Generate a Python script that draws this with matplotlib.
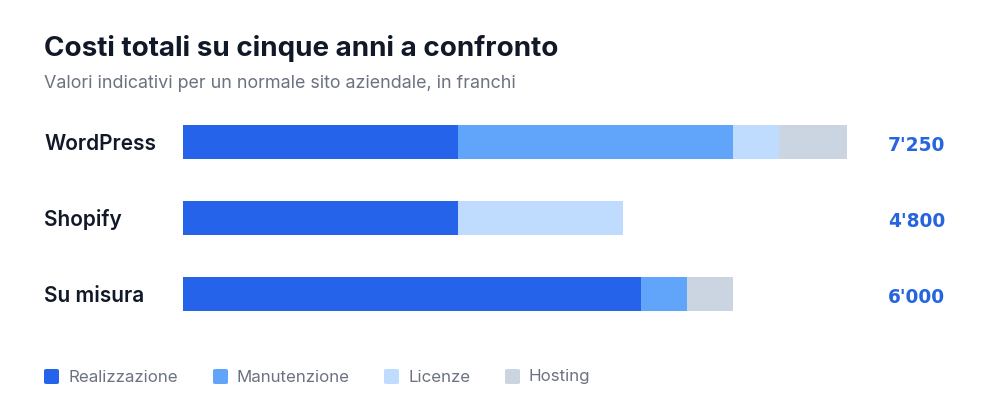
import numpy as np
import matplotlib.pyplot as plt
from matplotlib.patches import FancyBboxPatch

# data
platforms = ["WordPress", "Shopify", "Su misura"]
components = ["Realizzazione", "Manutenzione", "Licenze", "Hosting"]
realizzazione = [3000, 3000, 5000]
manutenzione = [3000, 0, 500]
licenze = [500, 1800, 0]
hosting = [750, 0, 500]
totals = ["7'250", "4'800", "6'000"]

colors = ["#2563eb", "#60a5fa", "#bfdbfe", "#cbd5e1"]
series = [realizzazione, manutenzione, licenze, hosting]

W, H = 1000, 420
fig = plt.figure(figsize=(10, 4.2), dpi=100)
fig.patch.set_facecolor("white")

# axes placed so bars start at x=183 px, rows centred at 142/218/294 px
ax = fig.add_axes([183 / W, 1 - 332 / H, 733 / W, 228 / H])
ax.set_xlim(0, 8000)
ax.set_ylim(2.5, -0.5)
ax.axis("off")

y = np.arange(len(platforms))
left = np.zeros(len(platforms))
for vals, c in zip(series, colors):
    vals = np.array(vals, dtype=float)
    ax.barh(y, vals, left=left, height=34 / 76, color=c, linewidth=0)
    left += vals

px = 1 / 76  # one pixel in y data units
for i, (name, tot) in enumerate(zip(platforms, totals)):
    ax.text(-139 / 733, i + 8 * px, name, transform=ax.get_yaxis_transform(),
            ha="left", va="baseline", fontsize=15, fontweight="semibold",
            family="Inter", color="#111827")
    ax.text(705 / 733, i + 9 * px, tot, transform=ax.get_yaxis_transform(),
            ha="left", va="baseline", fontsize=13.4, fontweight="bold",
            family="DejaVu Sans", color="#2765df")

fig.text(44 / W, 1 - 48 / H, "Costi totali su cinque anni a confronto",
         ha="left", va="center", fontsize=20, fontweight="bold",
         family="Inter", color="#111827")
fig.text(44 / W, 1 - 84 / H,
         "Valori indicativi per un normale sito aziendale, in franchi",
         ha="left", va="center", fontsize=12.9, family="Inter", color="#6b7280")

# legend drawn by hand
leg_x = [44, 213, 384, 505]
for lx, lab, c in zip(leg_x, components, colors):
    box = FancyBboxPatch((lx / W, 1 - 384 / H), 15 / W, 15 / H,
                         boxstyle="round,pad=0,rounding_size=0.003",
                         transform=fig.transFigure, facecolor=c,
                         edgecolor="none")
    fig.patches.append(box)
    fig.text((lx + 24) / W, 1 - 377 / H, lab, ha="left", va="center",
             fontsize=12.2, family="Inter", color="#6b7280")

fig.savefig("out.png", dpi=100, facecolor="white")
